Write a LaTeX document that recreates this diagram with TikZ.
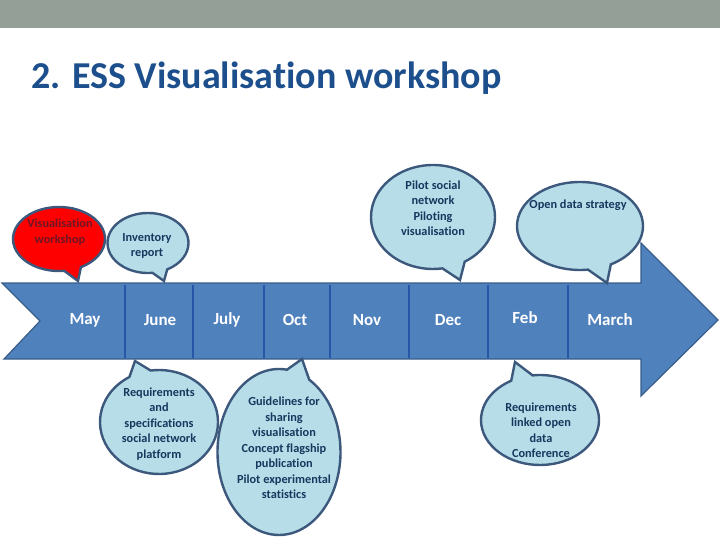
\documentclass[tikz,border=0pt]{standalone}
\usepackage{fontspec}
\setmainfont{Carlito}[RawFeature={-liga;-clig}]
\usetikzlibrary{shapes.callouts}

\definecolor{topbar}{RGB}{147,159,151}
\definecolor{titleblue}{RGB}{28,79,140}
\definecolor{arrowblue}{RGB}{79,129,189}
\definecolor{arrowedge}{RGB}{56,93,138}
\definecolor{divblue}{RGB}{38,86,168}
\definecolor{bubblefill}{RGB}{183,221,232}
\definecolor{bubbleedge}{RGB}{60,88,124}
\definecolor{bubbletext}{RGB}{23,55,94}
\definecolor{redtext}{RGB}{110,20,40}

\begin{document}
\begin{tikzpicture}[x=1pt, y=-1pt,
    bubble/.style={ellipse callout, draw=bubbleedge, fill=bubblefill, line width=2.4pt,
      inner sep=0pt, callout pointer arc=22},
    bubtext/.style={font=\fontsize{12.3}{15.5}\selectfont\bfseries, text=bubbletext, align=center, inner sep=0pt},
    month/.style={font=\fontsize{17}{20}\selectfont\bfseries, text=white}]
    \useasboundingbox (0,0) rectangle (720,540);
    \fill[topbar] (0,0) rectangle (720,28);
    \node[anchor=base west, inner sep=0pt, text=titleblue,
      font=\fontsize{38}{42}\selectfont\bfseries] (title) at (31,89) {2. ESS Visualisation workshop};

    % timeline arrow
    \draw[fill=arrowblue, draw=arrowedge, line width=1.2pt]
      (2,283) -- (641,283) -- (641,243) -- (718,320) -- (641,396) -- (641,359) -- (4,359) -- (40,321) -- cycle;
    \foreach \dx in {125,193,264,330,409,488,568} {
      \draw[divblue, line width=2.6pt] (\dx,284.5) -- (\dx,357.5);
    }
    \foreach \mx/\my/\mname/\mtext in {85/320/may/May, 160/320/june/June, 227/320/july/July,
        295/320/oct/Oct, 367/320/nov/Nov, 448/320/dec/Dec, 525/318/feb/Feb, 610/320/march/March} {
      \node[month] (\mname) at (\mx,\my) {\mtext};
    }

    % pointer tips
    \coordinate (wsTip) at (78,281);
    \coordinate (invTip) at (164,281);
    \coordinate (pilotTip) at (460,280);
    \coordinate (openTip) at (607,283);
    \coordinate (specTip) at (135,361);
    \coordinate (guideTip) at (302,359);
    \coordinate (linkedTip) at (515,362);

    % callouts above
    \node[bubble, fill=red, minimum width=92, minimum height=64, callout absolute pointer={(wsTip)}] (ws) at (59,239) {};
    \node[bubtext, text=redtext] (wsText) at (60,232) {Visualisation\\workshop};
    \node[bubble, minimum width=81, minimum height=60, callout absolute pointer={(invTip)}] (inv) at (148,243) {};
    \node[bubtext] (invText) at (147,246) {Inventory\\report};
    \node[bubble, minimum width=124, minimum height=104, callout absolute pointer={(pilotTip)}] (pilot) at (433,217) {};
    \node[bubtext] (pilotText) at (433,208) {Pilot social\\network\\Piloting\\visualisation};
    \node[bubble, minimum width=126, minimum height=88, callout absolute pointer={(openTip)}] (open) at (580,226) {};
    \node[bubtext] (openText) at (578,205) {Open data strategy};

    % callouts below
    \node[bubble, minimum width=118, minimum height=104, callout absolute pointer={(specTip)}] (spec) at (159,422) {};
    \node[bubtext] (specText) at (159,424) {Requirements\\and\\specifications\\social network\\platform};
    \node[bubble, minimum width=123, minimum height=166, callout absolute pointer={(guideTip)}] (guide) at (279,452) {};
    \node[bubtext] (guideText) at (284,448) {Guidelines for\\sharing\\visualisation\\Concept flagship\\publication\\Pilot experimental\\statistics};
    \node[bubble, minimum width=118, minimum height=90, callout absolute pointer={(linkedTip)}] (linked) at (540,420) {};
    \node[bubtext] (linkedText) at (541,430) {Requirements\\linked open\\data\\Conference};
\end{tikzpicture}
\end{document}
